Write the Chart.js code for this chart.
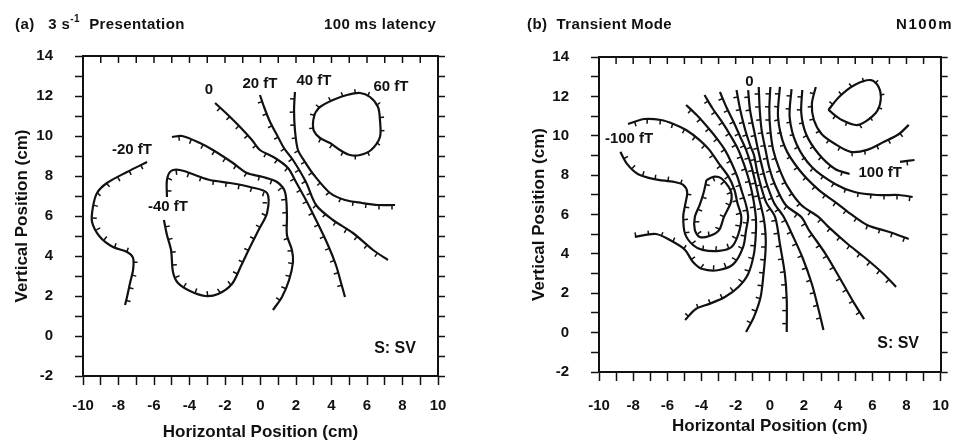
<!DOCTYPE html>
<html>
<head>
<meta charset="utf-8">
<script src="https://cdn.jsdelivr.net/npm/chart.js@4.4.1/dist/chart.umd.min.js"></script>
<style>
  body { margin: 0; background: #fff; }
  #wrap { position: relative; width: 961px; height: 443px; overflow: hidden;
          font-family: "Liberation Sans", Arial, sans-serif; font-weight: bold; color: #111; }
  canvas { position: absolute; top: 0; }
  #ca { left: 0; }
  #cb { left: 480px; }
  .hd { position: absolute; top: 16px; font-size: 15px; line-height: 16px; white-space: pre; letter-spacing: 0.4px; }
  .hd sup { font-size: 10px; vertical-align: 0; position: relative; top: -7px; }
</style>
</head>
<body>
<div id="wrap">
  <canvas id="ca" width="480" height="443"></canvas>
  <canvas id="cb" width="485" height="443"></canvas>
  <div class="hd" style="left:15px">(a)   3 s<sup>-1</sup>  Presentation</div>
  <div class="hd" style="left:324px">100 ms latency</div>
  <div class="hd" style="left:527px">(b)  Transient Mode</div>
  <div class="hd" style="left:896px; letter-spacing: 1.6px">N100m</div>
</div>
<script>
const FONT = '"Liberation Sans", Arial, sans-serif';

// axis labels (both panels)
const xTicks = [-10, -8, -6, -4, -2, 0, 2, 4, 6, 8, 10];
const yTicks = [-2, 0, 2, 4, 6, 8, 10, 12, 14];

// panel (a) isofield lines, [x, y] in cm
const aZero = [[-2.56,11.65],[-1.83,11.05],[-1.15,10.45],[-0.48,9.8],[-0.03,9.3],[0.82,8.9],[1.55,8.4],[2.0,7.7],[2.56,6.8],[3.13,5.8],[3.80,4.55],[4.25,3.55],[4.54,2.65],[4.76,1.95]];
const aPlus20 = [[-0.03,12.05],[0.20,11.45],[0.54,10.7],[0.93,10.05],[1.32,9.4],[1.83,8.8],[2.56,7.7],[3.13,6.55],[4.08,5.8],[5.21,5.15],[6.34,4.3],[7.18,3.8]];
const aPlus40 = [[1.94,12.2],[1.89,11.3],[1.94,10.3],[2.11,9.3],[2.51,8.7],[3.01,8.05],[3.92,7.15],[4.76,6.8],[5.72,6.65],[6.62,6.55],[7.58,6.55]];
const aPlus60 = [[3.07,11.15],[3.35,11.45],[4.08,11.8],[4.87,12.05],[5.61,12.15],[6.17,11.95],[6.62,11.45],[6.73,10.8],[6.73,9.95],[6.23,9.3],[5.61,9.05],[5.04,9.05],[4.48,9.3],[3.92,9.65],[3.35,9.9],[3.01,10.25],[2.96,10.7]];
const aMinus20R = [[-4.99,9.95],[-4.42,10.0],[-3.41,9.65],[-2.68,9.3],[-1.55,8.65],[-0.76,8.15],[0.14,7.95],[0.93,7.7],[1.38,7.2],[1.49,6.05],[1.49,5.05],[1.77,4.3],[1.83,3.7],[1.61,2.8],[1.21,1.95],[0.70,1.3]];
const aMinus20L = [[-6.39,8.7],[-7.52,8.2],[-8.65,7.65],[-9.21,7.15],[-9.44,6.45],[-9.49,5.7],[-9.04,4.95],[-8.31,4.45],[-7.52,4.2],[-7.18,3.9],[-7.18,3.3],[-7.35,2.65],[-7.52,1.95],[-7.63,1.55]];
const aMinus40 = [[-5.44,5.8],[-5.27,5.05],[-5.04,4.3],[-4.93,3.2],[-4.65,2.65],[-3.97,2.25],[-3.13,2.0],[-2.39,2.1],[-1.61,2.6],[-1.10,3.5],[-0.59,4.45],[-0.08,5.35],[0.37,6.15],[0.37,7.15],[-0.59,7.45],[-1.72,7.65],[-2.85,7.8],[-3.69,8.05],[-4.54,8.3],[-5.04,8.25],[-5.27,7.8],[-5.27,6.95]];
const aNotes = [
  {text: '0', x: -2.9, y: 12.3}, {text: '20 fT', x: -0.03, y: 12.6},
  {text: '40 fT', x: 3.01, y: 12.75}, {text: '60 fT', x: 7.35, y: 12.45},
  {text: '-20 fT', x: -7.24, y: 9.3}, {text: '-40 fT', x: -5.21, y: 6.45}
];

// panel (b) isofield lines
const bCore = [[-3.71,7.75],[-3.31,7.91],[-2.86,7.85],[-2.41,7.40],[-2.24,7.04],[-2.29,6.59],[-2.69,5.87],[-2.97,5.21],[-3.54,4.91],[-4.11,4.86],[-4.39,5.21],[-4.39,5.87],[-4.11,6.48],[-3.88,7.09]];
const bMinus100 = [[-8.30,10.60],[-7.34,10.85],[-6.37,10.80],[-5.64,10.60],[-4.90,10.29],[-4.11,9.78],[-3.54,9.28],[-2.97,8.57],[-2.41,7.91],[-2.07,7.25],[-1.90,6.59],[-1.67,5.87],[-1.84,5.01],[-2.24,4.35],[-2.97,4.15],[-3.94,4.20],[-4.50,4.45],[-4.96,5.01],[-5.07,5.87],[-4.96,6.48],[-4.84,7.14],[-5.07,7.50],[-5.58,7.65],[-6.77,7.80],[-7.73,8.06],[-8.36,8.57],[-8.75,9.18]];
const bC = [[-4.90,11.56],[-4.28,11.05],[-3.60,10.39],[-3.03,9.78],[-2.63,9.28],[-2.24,8.62],[-1.90,7.91],[-1.61,7.09],[-1.39,6.48],[-1.27,5.87],[-1.39,5.21],[-1.56,4.35],[-2.12,3.49],[-2.97,3.18],[-3.94,3.23],[-4.50,3.59],[-4.96,4.20],[-5.64,4.60],[-6.66,5.01],[-7.90,4.86]];
const bD = [[-3.82,12.07],[-3.37,11.41],[-2.80,10.70],[-2.29,9.99],[-1.84,9.28],[-1.50,8.52],[-1.22,7.75],[-0.99,6.89],[-0.82,5.87],[-0.82,5.01],[-0.93,4.00],[-1.27,2.98],[-1.84,2.32],[-2.63,1.81],[-3.54,1.46],[-4.33,1.20],[-4.96,0.64]];
const bE = [[-2.92,12.22],[-2.52,11.41],[-2.12,10.70],[-1.73,9.94],[-1.39,9.28],[-1.10,8.52],[-0.88,7.75],[-0.65,6.89],[-0.37,5.87],[-0.25,5.01],[-0.25,4.20],[-0.37,2.98],[-0.54,1.81],[-0.93,0.80],[-1.39,0.03]];
const bF = [[-1.95,12.32],[-1.73,11.31],[-1.44,10.29],[-1.16,9.53],[-0.93,9.02],[-0.76,8.26],[-0.54,7.50],[-0.20,6.59],[0.31,5.87],[0.59,4.50],[0.88,2.98],[0.99,1.66],[0.99,0.03]];
const bZero = [[-1.27,12.32],[-1.16,11.31],[-0.93,10.29],[-0.71,9.38],[-0.48,8.52],[-0.20,7.60],[0.25,6.59],[0.80,5.90],[1.30,5.00],[1.90,3.84],[2.46,2.47],[2.86,1.15],[3.14,0.13]];
const bH = [[-0.65,12.48],[-0.59,11.31],[-0.48,10.29],[-0.25,9.28],[-0.03,8.36],[0.31,7.50],[0.93,6.48],[1.84,5.87],[2.29,5.21],[3.26,4.00],[4.16,2.67],[4.96,1.46],[5.52,0.69]];
const bI = [[0.03,12.48],[-0.03,11.31],[0.03,10.29],[0.20,9.28],[0.54,8.36],[1.05,7.40],[1.84,6.48],[2.86,5.87],[3.43,5.37],[4.56,4.50],[5.52,3.84],[6.66,2.98],[7.39,2.32]];
const bJ = [[0.59,12.48],[0.48,10.95],[0.88,9.43],[1.73,8.26],[2.86,7.25],[3.99,6.53],[4.73,6.03],[5.69,5.47],[7.00,5.11],[8.13,4.76]];
const bK = [[1.27,12.37],[1.16,10.95],[1.56,9.58],[2.46,8.41],[3.82,7.55],[4.96,7.14],[6.26,6.99],[7.56,6.99],[8.36,6.89]];
const bL = [[1.90,12.32],[1.84,11.16],[2.12,10.09],[2.86,9.07],[3.82,8.31],[4.67,8.06]];
const bLTail = [[7.62,8.67],[8.47,8.77]];
const bM = [[2.69,12.48],[2.46,11.61],[2.58,10.80],[3.03,10.09],[3.82,9.58],[4.73,9.18],[5.69,9.28],[6.66,9.68],[7.56,10.09],[8.13,10.55]];
const bPeak = [[3.43,11.31],[4.05,11.97],[4.96,12.58],[5.92,12.83],[6.37,12.48],[6.49,11.82],[6.20,11.16],[5.18,10.55],[4.22,10.80]];
const bNotes = [
  {text: '0', x: -1.2, y: 12.75}, {text: '-100 fT', x: -8.24, y: 9.84}, {text: '100 fT', x: 6.46, y: 8.11}
];

const aStamp = {text: 'S: SV', x: 7.58, y: -0.65};
const bStamp = {text: 'S: SV', x: 7.51, y: -0.58};

// one contour -> scatter dataset; side = which side the hachures go
function contour(pts, side, closed) {
  const d = pts.map(p => ({x: p[0], y: p[1]}));
  if (closed) d.push({x: pts[0][0], y: pts[0][1]});
  return {data: d, showLine: true, borderColor: '#111', borderWidth: 2.2, pointRadius: 0,
          tension: 0.3, fill: false, hachure: side};
}

// small ticks along the lines
const hachures = {
  id: 'hachures',
  afterDatasetsDraw(chart) {
    const ctx = chart.ctx;
    ctx.save();
    ctx.strokeStyle = '#111';
    ctx.lineWidth = 1.5;
    chart.data.datasets.forEach((ds, i) => {
      if (!ds.hachure) return;
      const pts = chart.getDatasetMeta(i).data;
      let next = 7, run = 0;
      for (let k = 1; k < pts.length; k++) {
        const x0 = pts[k - 1].x, y0 = pts[k - 1].y;
        const dx = pts[k].x - x0, dy = pts[k].y - y0;
        const len = Math.hypot(dx, dy);
        if (!len) continue;
        while (next <= run + len) {
          const t = (next - run) / len;
          const px = x0 + dx * t, py = y0 + dy * t;
          const nx = -dy / len * ds.hachure, ny = dx / len * ds.hachure;
          ctx.beginPath();
          ctx.moveTo(px, py);
          ctx.lineTo(px + nx * 4.5, py + ny * 4.5);
          ctx.stroke();
          next += 13;
        }
        run += len;
      }
    });
    ctx.restore();
  }
};

// top axis ticks point inward
const innerTop = {
  id: 'innerTop',
  afterDraw(chart) {
    const s = chart.scales.x2, top = chart.chartArea.top, ctx = chart.ctx;
    ctx.save();
    ctx.strokeStyle = '#111';
    ctx.lineWidth = 1.5;
    s.ticks.forEach(t => {
      const x = s.getPixelForValue(t.value);
      ctx.beginPath();
      ctx.moveTo(x, top);
      ctx.lineTo(x, top + 7);
      ctx.stroke();
    });
    ctx.restore();
  }
};

function notesPlugin(notes, stamp) {
  return {
    id: 'notes',
    afterDraw(chart) {
      const ctx = chart.ctx, sx = chart.scales.x, sy = chart.scales.y;
      ctx.save();
      ctx.fillStyle = '#111';
      ctx.textAlign = 'center';
      ctx.textBaseline = 'middle';
      ctx.font = 'bold 15px ' + FONT;
      notes.forEach(n => ctx.fillText(n.text, sx.getPixelForValue(n.x), sy.getPixelForValue(n.y)));
      ctx.font = 'bold 16px ' + FONT;
      ctx.fillText(stamp.text, sx.getPixelForValue(stamp.x), sy.getPixelForValue(stamp.y));
      ctx.restore();
    }
  };
}

function scalesFor(g) {
  const lbl = list => v => list.includes(Math.round(v)) ? String(Math.round(v)) : '';
  const tickFont = {family: FONT, size: 15, weight: 'bold'};
  const titleFont = {family: FONT, size: 17, weight: 'bold'};
  const edge = {display: true, color: '#111', width: 2};
  const gridBase = {drawOnChartArea: false, color: '#111', tickColor: '#111', tickWidth: 1.5};
  const xr = {min: xTicks[0], max: xTicks[xTicks.length - 1]};
  const yr = {min: yTicks[0], max: yTicks[yTicks.length - 1]};
  return {
    x: {type: 'linear', position: 'bottom', ...xr,
        afterFit: s => { s.height = g.bottomH; },
        ticks: {stepSize: 1, autoSkip: false, maxRotation: 0, minRotation: 0, color: '#111',
                font: tickFont, padding: g.xPad, callback: lbl(xTicks)},
        grid: {...gridBase, tickLength: 9},
        border: edge,
        title: {display: true, text: 'Horizontal Position (cm)', color: '#111', font: titleFont,
                padding: {top: 0, bottom: 0}}},
    x2: {type: 'linear', position: 'top', ...xr,
         afterFit: s => { s.height = g.topH; },
         ticks: {stepSize: 1, autoSkip: false, maxRotation: 0, display: false},
         grid: {...gridBase, drawTicks: false},
         border: edge},
    y: {type: 'linear', position: 'left', ...yr,
        afterFit: s => { s.width = g.leftW; },
        ticks: {stepSize: 1, autoSkip: false, color: '#111', font: tickFont, padding: 22,
                callback: lbl(yTicks)},
        grid: {...gridBase, tickLength: 8},
        border: edge,
        title: {display: true, text: 'Vertical Position (cm)', color: '#111', font: titleFont,
                padding: {top: 4, bottom: 0}}},
    y2: {type: 'linear', position: 'right', ...yr,
         afterFit: s => { s.width = g.rightW; },
         ticks: {stepSize: 1, autoSkip: false, display: false},
         grid: {...gridBase, tickLength: 7},
         border: edge}
  };
}

function panel(id, datasets, notes, stamp, g) {
  new Chart(document.getElementById(id), {
    type: 'scatter',
    data: {datasets},
    options: {
      responsive: false,
      animation: false,
      devicePixelRatio: 1,
      layout: {padding: g.pad},
      plugins: {legend: {display: false}, tooltip: {enabled: false}},
      scales: scalesFor(g)
    },
    plugins: [hachures, innerTop, notesPlugin(notes, stamp)]
  });
}

panel('ca', [
  contour(aZero, 1), contour(aPlus20, 1), contour(aPlus40, 1),
  contour(aPlus60, -1, true), contour(aMinus20R, 1), contour(aMinus20L, -1),
  contour(aMinus40, -1)
], aNotes, aStamp,
  {pad: {left: 8, right: 0, top: 0, bottom: 0}, leftW: 75, rightW: 42, topH: 56, bottomH: 67, xPad: 12});

panel('cb', [
  contour(bCore, 1, true), contour(bMinus100, 1), contour(bC, 1), contour(bD, 1),
  contour(bE, 1), contour(bF, 1), contour(bZero, 1), contour(bH, 1), contour(bI, 1),
  contour(bJ, 1), contour(bK, 1), contour(bL, 1), contour(bLTail, 1), contour(bM, 1),
  contour(bPeak, -1, true)
], bNotes, bStamp,
  {pad: {left: 45, right: 0, top: 0, bottom: 6}, leftW: 74, rightW: 13, topH: 57, bottomH: 65, xPad: 16});
</script>
</body>
</html>
